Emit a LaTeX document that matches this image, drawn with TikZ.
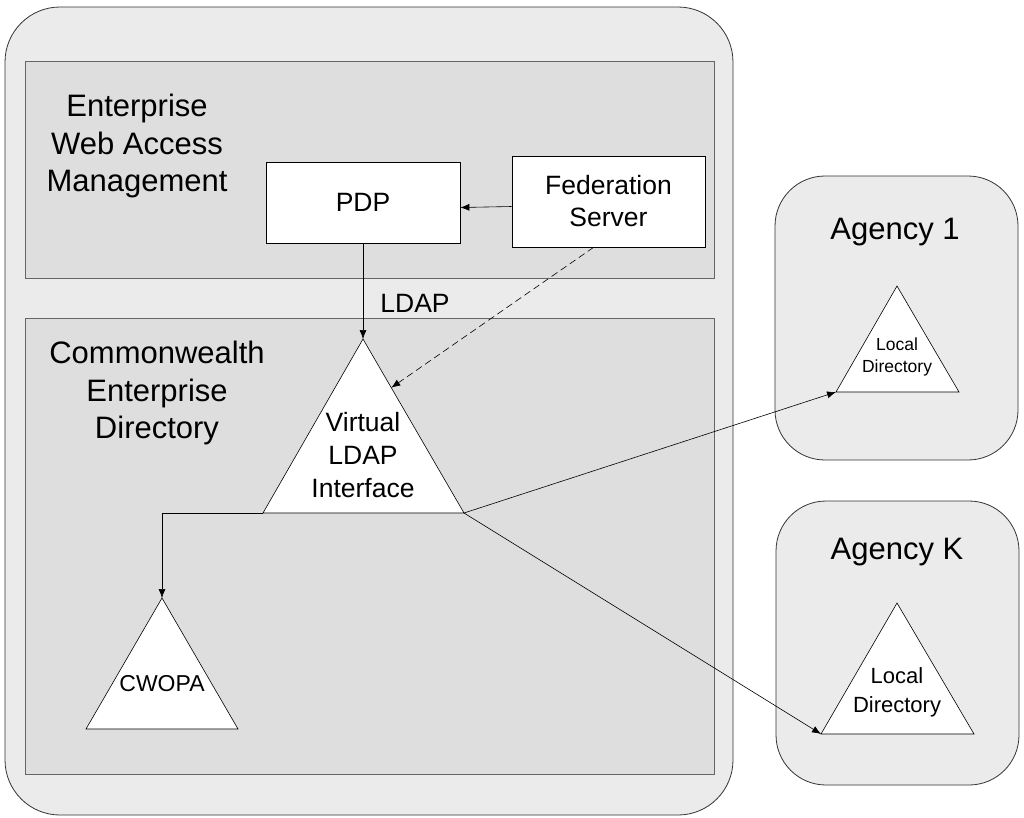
\documentclass[tikz,border=0pt]{standalone}
\usepackage{fontspec}
\setmainfont{Liberation Sans}
\usetikzlibrary{calc,arrows.meta}

\begin{document}
\begin{tikzpicture}[x=1pt, y=-1pt, outer/.style={draw=black!80, fill=black!8, rounded corners=55pt, line width=0.8pt}, area/.style={draw=black!60, fill=black!13, line width=0.8pt}, agency/.style={draw=black!80, fill=black!8, rounded corners=50pt, line width=0.8pt}, box/.style={draw, fill=white, line width=0.8pt, minimum width=194pt, minimum height=81pt, inner sep=0pt, align=center, font=\fontsize{26.5}{32}\selectfont}, tri/.style={draw, fill=white, line width=0.6pt}, lbl/.style={align=center, font=\fontsize{31}{37.5}\selectfont}, n/.style={-{Latex[length=9pt,width=7pt]}, line width=0.6pt}, d/.style={-{Latex[length=9pt,width=7pt]}, line width=0.6pt, dash pattern=on 7pt off 4pt}]
            \useasboundingbox (0,0) rectangle (1024,817);
            % frames
            \draw[outer] (5,7) rectangle (733,815);
            \draw[area] (25,61) rectangle (714,278);
            \draw[area] (25,318) rectangle (714,774);
            \draw[agency] (775,176) rectangle (1018,460);
            \draw[agency] (776,501) rectangle (1019,785);

            % triangles
            \coordinate (vtop) at (363,339);
            \coordinate (vleft) at (263,513);
            \coordinate (vright) at (464,513);
            \coordinate (ctop) at (162,598);
            \coordinate (cleft) at (86,729);
            \coordinate (cright) at (238,729);
            \coordinate (a1top) at (897,286);
            \coordinate (a1left) at (836,392);
            \coordinate (a1right) at (959,392);
            \coordinate (aktop) at (897,603);
            \coordinate (akleft) at (821,734);
            \coordinate (akright) at (974,734);
            \draw[tri] (vtop) -- (vleft) -- (vright) -- cycle;
            \draw[tri] (ctop) -- (cleft) -- (cright) -- cycle;
            \draw[tri] (a1top) -- (a1left) -- (a1right) -- cycle;
            \draw[tri] (aktop) -- (akleft) -- (akright) -- cycle;

            % nodes
            \node[lbl] (ewam) at (137,146) {Enterprise\\Web Access\\Management};
            \node[lbl] (ced) at (157,393) {Commonwealth\\Enterprise\\Directory};
            \node[box] (pdp) at (363,202.5) {PDP};
            \node[box, minimum width=193pt, minimum height=91pt] (fed) at (608.5,201.5) {Federation\\Server};
            \node[font=\fontsize{26.5}{30}\selectfont] (ldap) at (415,303) {LDAP};
            \node[align=center, font=\fontsize{26.5}{33}\selectfont] (vldap) at (363,455) {Virtual\\LDAP\\Interface};
            \node[font=\fontsize{23}{26}\selectfont] (cwopa) at (162,684) {CWOPA};
            \node[font=\fontsize{31}{34}\selectfont] (agency1) at (895,232) {Agency 1};
            \node[font=\fontsize{31}{34}\selectfont] (agencyk) at (897,552) {Agency K};
            \node[align=center, font=\fontsize{17.5}{22}\selectfont] (local1) at (897,357) {Local\\Directory};
            \node[align=center, font=\fontsize{22}{29}\selectfont] (localk) at (897,692) {Local\\Directory};

            % edges
            \draw[n] ([yshift=-5pt]fed.west) -- ([yshift=-5pt]pdp.east);
            \draw[n] (pdp.south) -- (vtop);
            \draw[d] ([xshift=-15pt]fed.south) -- ($(vtop)!0.28!(vright)$);
            \draw[n] (vleft) -| (ctop);
            \draw[n] (vright) -- (a1left);
            \draw[n] (vright) -- (akleft);
        \end{tikzpicture}
\end{document}
